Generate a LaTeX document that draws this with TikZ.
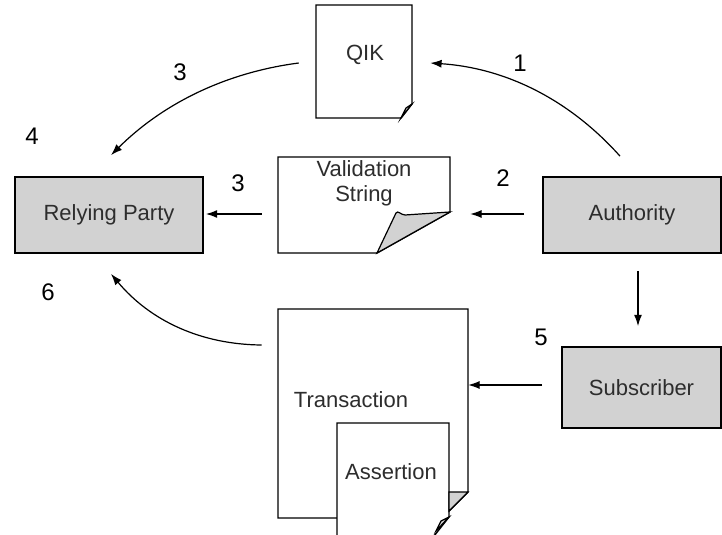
\documentclass[tikz,border=0pt]{standalone}
\usepackage{fontspec}
\setmainfont{Liberation Sans}
\usetikzlibrary{arrows.meta,calc}
\definecolor{boxgray}{RGB}{210,210,210}
\definecolor{inkgray}{RGB}{45,45,45}
\begin{document}
\begin{tikzpicture}[x=0.75pt,y=-0.75pt,
  actor/.style={draw, line width=1.3pt, fill=boxgray, text=inkgray,
    font=\fontsize{16.5}{19}\selectfont, inner sep=0pt},
  sheet/.style={draw=none, inner sep=0pt},
  doctext/.style={text=inkgray, font=\fontsize{16.5}{19}\selectfont, align=center, inner sep=0pt},
  page/.style={line width=1.1pt},
  flap/.style={line width=0.9pt, fill=boxgray},
  flow/.style={line width=0.9pt, -{Latex[length=8.5pt,width=6pt]}},
  numlabel/.style={font=\fontsize{18}{20}\selectfont, inner sep=0pt}
]
\useasboundingbox (0,0) rectangle (722,535);

% parties
\node[actor, minimum width={188*0.75pt}, minimum height={76*0.75pt}] (rp) at (109,215) {Relying Party};
\node[actor, minimum width={178*0.75pt}, minimum height={76*0.75pt}] (auth) at (632,215) {Authority};
\node[actor, minimum width={159*0.75pt}, minimum height={81*0.75pt}] (sub) at (641.5,387.5) {Subscriber};

% QIK sheet
\node[sheet, minimum width={96*0.75pt}, minimum height={113*0.75pt}] (qik) at (364,61.5) {};
\draw[page, fill=white] (316,5) -- (412,5) -- (412,104) -- (401,118) -- (316,118) -- cycle;
\draw[flap] (412,104) -- (406,108) -- (401,118) -- cycle;
\node[doctext] at (365,55) {QIK};

% Validation String sheet
\node[sheet, minimum width={172*0.75pt}, minimum height={96*0.75pt}] (val) at (364,205) {};
\draw[page, fill=white] (278,157) -- (450,157) -- (450,212) -- (377,253) -- (278,253) -- cycle;
\draw[flap] (377,253) -- (396,213) .. controls (398,210) and (401,215) .. (405,215) -- (450,212) -- cycle;
\node[doctext] at (364,183) {Validation\\String};

% Transaction sheet with the Assertion sheet laid over it
\node[sheet, minimum width={190*0.75pt}, minimum height={209*0.75pt}] (trans) at (373,413.5) {};
\draw[page, fill=white] (278,309) -- (468,309) -- (468,492) -- (442,518) -- (278,518) -- cycle;
\node[doctext] at (351,400) {Transaction};
\fill[white] (337,536) -- (337,423) -- (449,423) -- (449,517) -- (434,536) -- cycle;
\draw[page] (337,536) -- (337,423) -- (449,423) -- (449,517) -- (434,536);
\draw[flap] (449,492) -- (468,492) -- (449,511) -- cycle;
\draw[flap] (449,517) -- (441,521) -- (436,531) -- cycle;
\node[doctext] at (391,472) {Assertion};

% flows
\draw[flow] ($(auth.north)+(-12,-20)$) .. controls (569.5,99.7) and (506,68) .. ($(qik.east)+(18,1.5)$);
\draw[flow] ($(qik.west)+(-17,1.5)$) .. controls (225.7,72.5) and (163,103.5) .. ($(rp.north)+(2,-21)$);
\draw[flow] ($(auth.west)+(-18,-1)$) -- ($(val.east |- auth.west)+(20,-1)$);
\draw[flow] ($(val.west |- rp.east)+(-16,-1)$) -- ($(rp.east)+(2,-1)$);
\draw[flow] ($(auth.south)+(6,17)$) -- ($(sub.north -| auth.south)+(6,-20)$);
\draw[flow] ($(sub.west)+(-19,-2.5)$) -- ($(trans.east |- sub.west)+(0,-2.5)$);
\draw[flow] ($(trans.west)+(-16,-68.5)$) .. controls (200.5,344.5) and (150,320.5) .. ($(rp.south)+(2,20)$);

% step numbers
\node[numlabel] (n1) at (520,63) {1};
\node[numlabel] (n2) at (503,178) {2};
\node[numlabel] (n3a) at (180,72) {3};
\node[numlabel] (n3b) at (238,183) {3};
\node[numlabel] (n4) at (32,136) {4};
\node[numlabel] (n5) at (541,337) {5};
\node[numlabel] (n6) at (48,292) {6};
\end{tikzpicture}
\end{document}
